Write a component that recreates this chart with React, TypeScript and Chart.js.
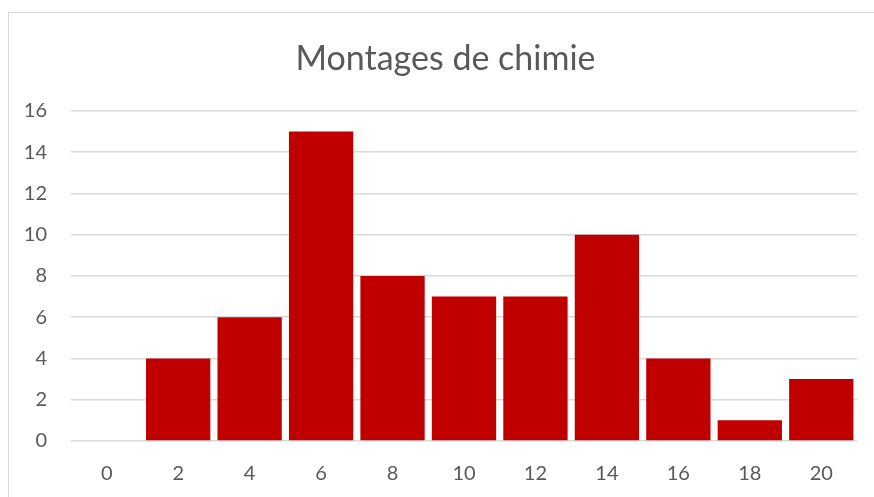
import React, { useEffect, useRef } from "react";
import { Chart, registerables } from "chart.js";

Chart.register(...registerables);

const categories = ["0", "2", "4", "6", "8", "10", "12", "14", "16", "18", "20"];
const counts = [0, 4, 6, 15, 8, 7, 7, 10, 4, 1, 3];
const chartTitle = "Montages de chimie";

export default function App() {
  const ref = useRef<HTMLCanvasElement | null>(null);
  useEffect(() => {
    if (!ref.current) return;
    const chart = new Chart(ref.current, {
      type: "bar",
      data: {
        labels: categories,
        datasets: [
          {
            data: counts,
            backgroundColor: "#C00000",
            borderWidth: 0,
            barPercentage: 0.9,
            categoryPercentage: 1,
          },
        ],
      },
      options: {
        animation: false,
        responsive: false,
        layout: { padding: { left: 0, right: 0, top: 26, bottom: 0 } },
        plugins: {
          legend: { display: false },
          tooltip: { enabled: false },
          title: {
            display: true,
            text: chartTitle,
            color: "#595959",
            font: { family: "Lato", size: 34, weight: "normal" },
            padding: { top: 0, bottom: 31 },
          },
        },
        scales: {
          x: {
            grid: { display: false, drawTicks: false },
            border: { display: false },
            ticks: {
              color: "#595959",
              font: { family: "Lato", size: 20 },
              padding: 21,
            },
          },
          y: {
            min: 0,
            max: 16,
            afterFit: (scale: any) => {
              scale.width = 62;
            },
            grid: { color: "#d9d9d9", lineWidth: 1.5, drawTicks: false },
            border: { display: false },
            ticks: {
              stepSize: 2,
              color: "#595959",
              font: { family: "Lato", size: 20 },
              padding: 24,
            },
          },
          spacer: {
            type: "linear",
            position: "right",
            min: 0,
            max: 16,
            afterFit: (scale: any) => {
              scale.width = 25;
            },
            grid: { display: false, drawTicks: false },
            border: { display: false },
            ticks: { display: false },
          },
        },
      },
    });
    return () => chart.destroy();
  }, []);
  return (
    <div
      style={{
        position: "fixed",
        left: 8,
        top: 12,
        width: 900,
        height: 520,
        border: "1.5px solid #d9d9d9",
        background: "#fff",
      }}
    >
      <canvas ref={ref} width={873} height={494} style={{ display: "block" }} />
    </div>
  );
}
